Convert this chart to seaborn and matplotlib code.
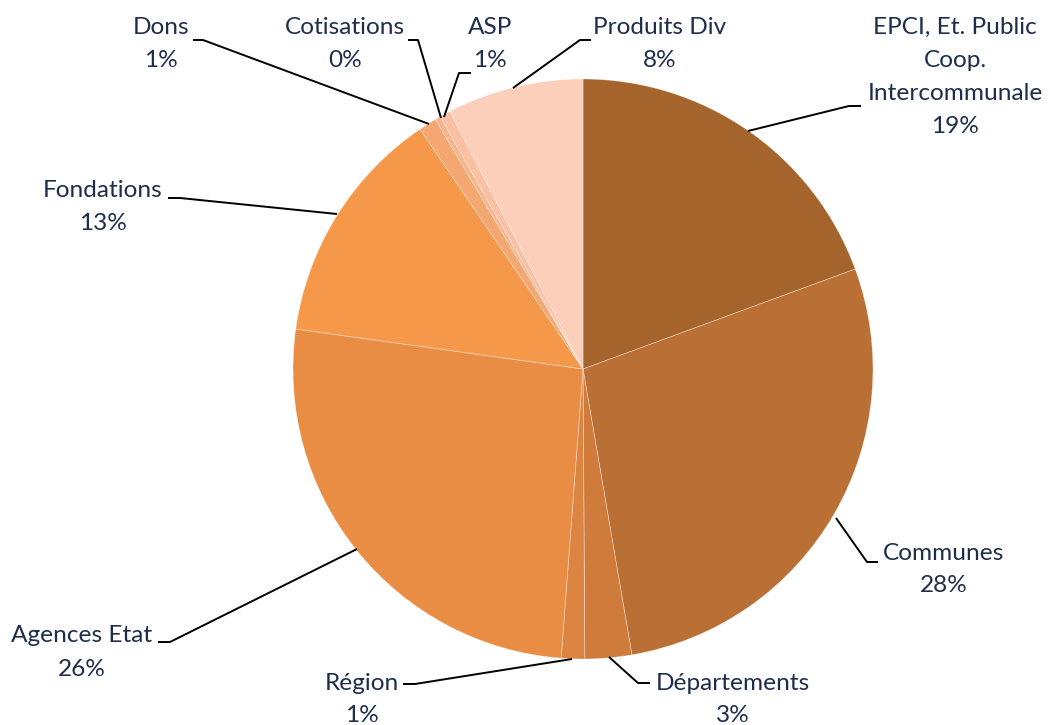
import matplotlib
matplotlib.use("Agg")
import matplotlib.pyplot as plt
import seaborn as sns

# data (percent of total, clockwise from 12 o'clock)
categories = ["EPCI, Et. Public\nCoop.\nIntercommunale", "Communes", "Départements", "Région",
              "Agences Etat", "Fondations", "Dons", "Cotisations", "ASP", "Produits Div"]
shares = [19.4, 27.9, 2.6, 1.3, 26.0, 13.3, 1.0, 0.3, 0.6, 7.6]
slice_colors = ["#A5642C", "#BA7035", "#CF7B3B", "#DC8441", "#E98D44",
                "#F6984A", "#F5A772", "#F7B48C", "#F9C0A3", "#FBCFBA"]

sns.set_theme(style="white")
plt.rcParams["font.family"] = ["Lato", "DejaVu Sans"]

W, H = 1050, 725
fig = plt.figure(figsize=(10.5, 7.25), dpi=100)
ax = fig.add_axes([0, 0, 1, 1])


def px(x, y):
    # image pixel coords -> data coords
    return x, H - y


palette = sns.color_palette(slice_colors)
ax.pie(shares, colors=palette, startangle=90, counterclock=False,
       center=px(583, 369), radius=290, frame=True,
       wedgeprops=dict(edgecolor=(1, 1, 1, 0.45), linewidth=0.5))
ax.set_xlim(0, W)
ax.set_ylim(0, H)
ax.set_aspect("equal")
ax.axis("off")

# label layout: text centre (x, y of first line), leader line points
layout = [
    dict(txt=(955, 27), line=[(861, 106), (849, 106), (748, 131)]),
    dict(txt=(944, 553), line=[(878, 562), (867, 562), (836, 518)]),
    dict(txt=(733, 683), line=[(650, 683), (638, 683), (609, 657)]),
    dict(txt=(362, 683), line=[(403, 684), (415, 684), (572, 659)]),
    dict(txt=(82, 636), line=[(158, 642), (170, 642), (357, 549)]),
    dict(txt=(103, 190), line=[(168, 198), (180, 198), (337, 214)]),
    dict(txt=(161, 27), line=[(193, 40), (203, 40), (429, 124)]),
    dict(txt=(345, 27), line=[(408, 40), (418, 40), (441, 118)]),
    dict(txt=(490, 27), line=[(471, 73), (459, 73), (444, 117)]),
    dict(txt=(660, 27), line=[(591, 40), (580, 40), (513, 88)]),
]

text_color = "#1F2D4B"
line_h = 33
for name, val, lay in zip(categories, shares, layout):
    lines = name.split("\n") + [f"{val:.0f}%"]
    x0, y0 = lay["txt"]
    for i, ln in enumerate(lines):
        ax.text(*px(x0, y0 + i * line_h), ln, ha="center", va="center",
                fontsize=17.6, color=text_color)
    xs, ys = zip(*[px(x, y) for x, y in lay["line"]])
    ax.plot(xs, ys, color="black", lw=1.4, solid_capstyle="butt")

fig.savefig("out.png", dpi=100, facecolor="white")
